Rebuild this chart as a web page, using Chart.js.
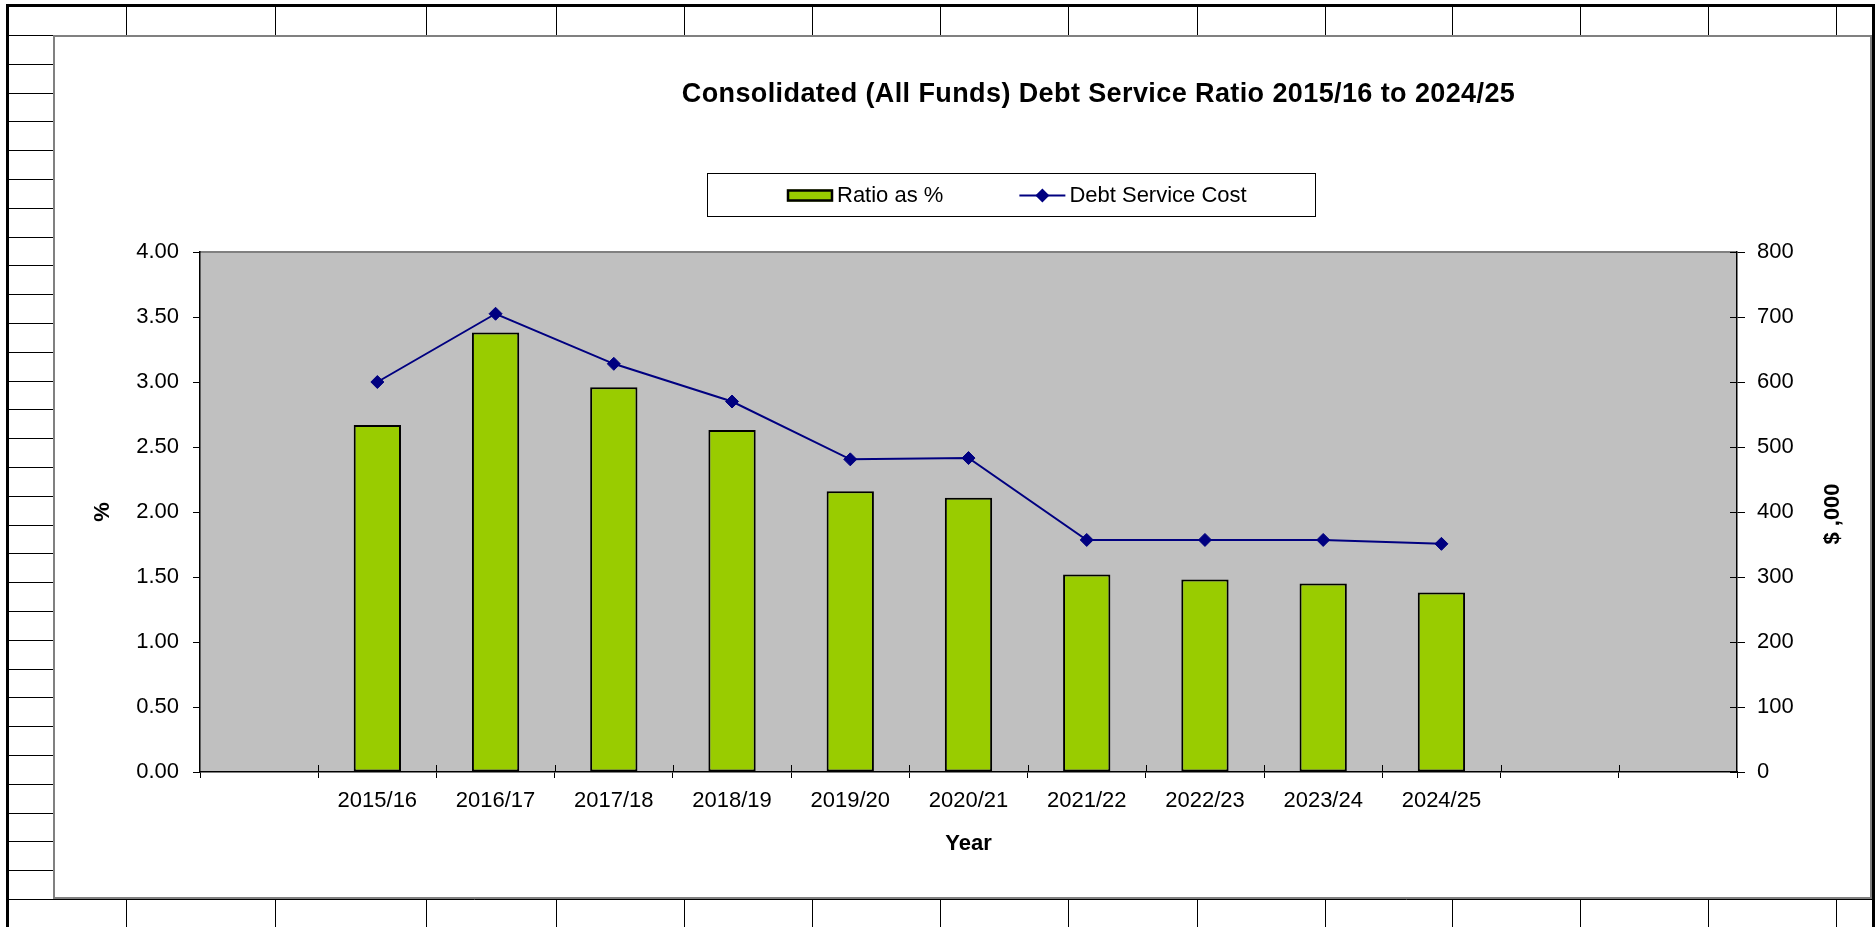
<!DOCTYPE html>
<html>
<head>
<meta charset="utf-8">
<title>Consolidated (All Funds) Debt Service Ratio</title>
<script src="https://cdn.jsdelivr.net/npm/chart.js@4.4.1/dist/chart.umd.min.js"></script>
<style>
  html, body { margin: 0; padding: 0; background: #fff; }
  body { width: 1875px; height: 927px; position: relative; overflow: hidden; }
  #sheet { position: absolute; left: 0; top: 0; }
  #chartBox {
    position: absolute; left: 53px; top: 35px; width: 1819px; height: 864px;
    box-sizing: border-box; border: 2px solid #808080; background: #fff;
  }
  #chartBox canvas { display: block; }
</style>
</head>
<body>
<canvas id="sheet" width="1875" height="927"></canvas>
<div id="chartBox"><canvas id="debtChart" width="1815" height="860"></canvas></div>
<script>
// values (one empty slot before, two after the years)
const chartTitle = 'Consolidated (All Funds) Debt Service Ratio 2015/16 to 2024/25';
const years = ['', '2015/16', '2016/17', '2017/18', '2018/19', '2019/20', '2020/21',
               '2021/22', '2022/23', '2023/24', '2024/25', '', ''];
const ratioPct = [null, 2.67, 3.38, 2.96, 2.63, 2.16, 2.11, 1.52, 1.48, 1.45, 1.38, null, null];
const debtServiceCost = [null, 600, 705, 628, 570, 481, 483, 357, 357, 357, 351, null, null];
const pctAxis = { min: 0, max: 4, step: 0.5 };
const costAxis = { min: 0, max: 800, step: 100 };

const FONT = "'Liberation Sans', Arial, sans-serif";
const GREEN = '#99CC00';
const NAVY = '#000080';

// spreadsheet cells behind the chart
function drawSheet() {
  const c = document.getElementById('sheet').getContext('2d');
  const colEdges = [126, 275, 426, 556, 684, 812, 940, 1068, 1197, 1325, 1452, 1580, 1708, 1836];
  c.strokeStyle = '#000';
  c.lineWidth = 1;
  c.beginPath();
  for (let k = 0; k <= 30; k++) {
    const y = Math.round(35 + k * 28.8) + 0.5;
    c.moveTo(9, y); c.lineTo(1872, y);
  }
  colEdges.forEach(x => { c.moveTo(x + 0.5, 7); c.lineTo(x + 0.5, 927); });
  c.stroke();
  // thick outer frame
  c.fillStyle = '#000';
  c.fillRect(6, 4, 1869, 3);
  c.fillRect(6, 4, 3, 923);
  c.fillRect(1872, 4, 3, 923);
}
drawSheet();

Chart.defaults.font.family = FONT;
Chart.defaults.color = '#000';

const excelLook = {
  id: 'excelLook',
  beforeDraw(chart) {
    const { ctx, chartArea: a } = chart;
    ctx.save();
    ctx.fillStyle = '#C0C0C0';
    ctx.fillRect(a.left, a.top, a.right - a.left, a.bottom - a.top);
    ctx.strokeStyle = '#808080';
    ctx.lineWidth = 2;
    ctx.beginPath();
    ctx.moveTo(a.left, a.top);
    ctx.lineTo(a.right, a.top);
    ctx.stroke();
    ctx.restore();
  },
  afterDraw(chart) {
    const { ctx, chartArea: a } = chart;
    const mid = (a.left + a.right) / 2;
    ctx.save();

    // inner halves of the crossing tick marks (x and right axis)
    ctx.strokeStyle = '#000';
    ctx.lineWidth = 1;
    ctx.beginPath();
    const step = (a.right - a.left) / years.length;
    for (let i = 1; i < years.length; i++) {
      const px = Math.round(a.left + i * step) + 0.5;
      ctx.moveTo(px, a.bottom - 7); ctx.lineTo(px, a.bottom);
    }
    const y1 = chart.scales.y1;
    y1.ticks.forEach(t => {
      const py = Math.round(y1.getPixelForValue(t.value)) + 0.5;
      ctx.moveTo(a.right - 7, py); ctx.lineTo(a.right, py);
    });
    ctx.stroke();

    // title
    ctx.fillStyle = '#000';
    ctx.font = 'bold 27px ' + FONT;
    ctx.letterSpacing = '0.4px';
    ctx.textAlign = 'center';
    ctx.textBaseline = 'middle';
    ctx.fillText(chartTitle, mid + 130, 58);
    ctx.letterSpacing = '0px';

    // legend box
    const boxW = 608, boxH = 43, boxX = Math.round(mid + 42 - boxW / 2), boxY = 136;
    ctx.strokeStyle = '#000';
    ctx.lineWidth = 1;
    ctx.strokeRect(boxX + 0.5, boxY + 0.5, boxW, boxH);
    ctx.font = '22px ' + FONT;
    ctx.textAlign = 'left';
    const gap = 76;
    let x = boxX + 80;
    const cy = boxY + boxH / 2 + 1;
    chart.data.datasets.forEach(ds => {
      if (ds.type === 'bar') {
        ctx.fillStyle = ds.backgroundColor;
        ctx.fillRect(x, cy - 6, 46, 12);
        ctx.strokeStyle = ds.borderColor;
        ctx.lineWidth = 2.5;
        ctx.strokeRect(x + 1, cy - 5, 44, 10);
      } else {
        ctx.strokeStyle = ds.borderColor;
        ctx.lineWidth = 2;
        ctx.beginPath();
        ctx.moveTo(x, cy); ctx.lineTo(x + 46, cy);
        ctx.stroke();
        ctx.fillStyle = ds.borderColor;
        ctx.beginPath();
        ctx.moveTo(x + 23 - 7, cy); ctx.lineTo(x + 23, cy - 7);
        ctx.lineTo(x + 23 + 7, cy); ctx.lineTo(x + 23, cy + 7);
        ctx.closePath();
        ctx.fill();
      }
      ctx.fillStyle = '#000';
      ctx.fillText(ds.label, x + 50, cy);
      x += 50 + ctx.measureText(ds.label).width + gap;
    });

    // right axis title, reading upwards like the left one
    ctx.font = 'bold 22px ' + FONT;
    ctx.textAlign = 'center';
    ctx.translate(y1.left + 96, (a.top + a.bottom) / 2 + 2);
    ctx.rotate(-Math.PI / 2);
    ctx.fillText('$ ,000', 0, 0);
    ctx.restore();
  }
};

new Chart(document.getElementById('debtChart'), {
  data: {
    labels: years,
    datasets: [
      {
        type: 'bar',
        label: 'Ratio as %',
        data: ratioPct,
        yAxisID: 'y',
        backgroundColor: GREEN,
        borderColor: '#000',
        borderWidth: 2,
        borderSkipped: false,
        barPercentage: 0.4,
        categoryPercentage: 1,
        order: 2
      },
      {
        type: 'line',
        label: 'Debt Service Cost',
        data: debtServiceCost,
        yAxisID: 'y1',
        borderColor: NAVY,
        backgroundColor: NAVY,
        borderWidth: 2,
        pointStyle: 'rectRot',
        pointRadius: 6.5,
        pointBorderWidth: 1,
        pointBackgroundColor: NAVY,
        tension: 0,
        order: 1
      }
    ]
  },
  options: {
    responsive: false,
    animation: false,
    layout: { padding: { top: 215, left: 0, right: 0, bottom: 0 } },
    plugins: {
      legend: { display: false },
      title: { display: false },
      tooltip: { enabled: false }
    },
    scales: {
      x: {
        offset: true,
        grid: { offset: true, drawOnChartArea: false, tickLength: 6, color: '#000' },
        border: { color: '#000', width: 1.5 },
        ticks: { font: { size: 22 }, padding: 10, maxRotation: 0, autoSkip: false },
        title: { display: true, text: 'Year', font: { size: 22, weight: 'bold' }, padding: { top: 0, bottom: 40 } },
        afterFit(s) { s.height = 125; }
      },
      y: {
        position: 'left',
        min: pctAxis.min,
        max: pctAxis.max,
        ticks: { stepSize: pctAxis.step, callback: v => v.toFixed(2), padding: 14, font: { size: 22 } },
        grid: { drawOnChartArea: false, tickLength: 7, color: '#000' },
        border: { color: '#000', width: 1.5 },
        title: { display: true, text: '%', font: { size: 22, weight: 'bold' }, padding: { top: 35, bottom: 0 } },
        afterFit(s) { s.width = 145; }
      },
      y1: {
        position: 'right',
        min: costAxis.min,
        max: costAxis.max,
        ticks: { stepSize: costAxis.step, padding: 12, font: { size: 22 } },
        grid: { drawOnChartArea: false, tickLength: 8, color: '#000' },
        border: { color: '#000', width: 1.5 },
        afterFit(s) { s.width = 133; }
      }
    }
  },
  plugins: [excelLook]
});
</script>
</body>
</html>
